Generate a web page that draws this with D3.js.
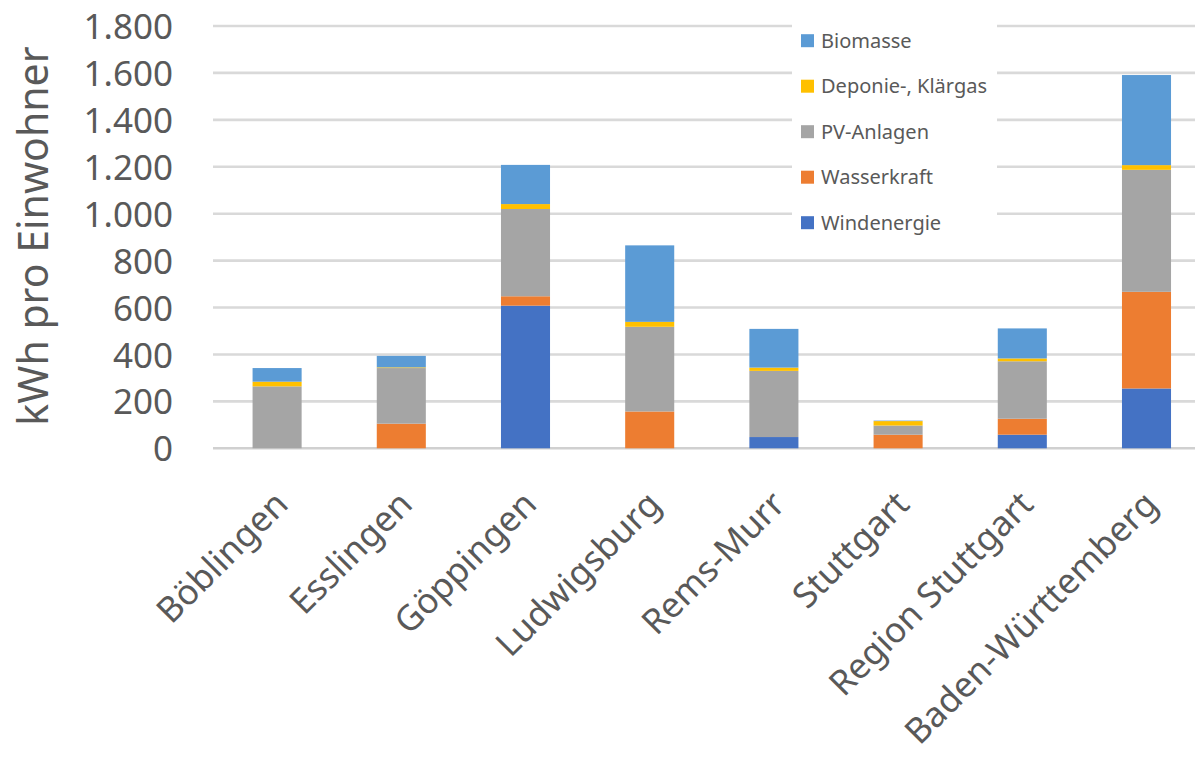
<!DOCTYPE html>
<html><head><meta charset="utf-8">
<script src="https://cdn.jsdelivr.net/npm/d3@7"></script>
<style>body{margin:0;background:#fff}svg{display:block}text{font-family:"Noto Sans","Open Sans",sans-serif;fill:#595959}</style>
</head><body>
<svg id="c" width="1195" height="764"></svg>
<script>
const categories = ["Böblingen","Esslingen","Göppingen","Ludwigsburg","Rems-Murr","Stuttgart","Region Stuttgart","Baden-Württemberg"];
const windenergie = [0, 0, 608, 0, 48, 0, 58, 255];
const wasserkraft = [0, 105, 40, 157, 0, 58, 68, 412];
const pvAnlagen = [264, 237, 372, 361, 282, 39, 245, 520];
const deponieKlaergas = [20, 3, 21, 21, 14, 19, 12, 20];
const biomasse = [58, 49, 167, 326, 165, 2, 128, 384];
const seriesNames = ["Windenergie","Wasserkraft","PV-Anlagen","Deponie-, Klärgas","Biomasse"];
const seriesColors = ["#4472c4","#ed7d31","#a5a5a5","#ffc000","#5b9bd5"];
const yTicks = [0,200,400,600,800,1000,1200,1400,1600,1800];
const yTickLabels = ["0","200","400","600","800","1.000","1.200","1.400","1.600","1.800"];
const yTitle = "kWh pro Einwohner";

const seriesValues = [windenergie, wasserkraft, pvAnlagen, deponieKlaergas, biomasse];
const rows = categories.map((c,i)=>{const r={cat:c}; seriesNames.forEach((s,j)=>r[s]=seriesValues[j][i]); return r;});
const stacked = d3.stack().keys(seriesNames)(rows);

const svg = d3.select("#c");
const x = d3.scaleBand().domain(categories).range([215, 1208.6]).paddingInner(0.605).paddingOuter(0.3025);
const y = d3.scaleLinear().domain([0,1800]).range([448.3, 26]);

// gridlines
svg.append("g").selectAll("line").data(yTicks).join("line")
  .attr("x1",213).attr("x2",1195).attr("y1",d=>y(d)).attr("y2",d=>y(d))
  .attr("stroke",d=>d===0?"#d0d0d0":"#d9d9d9").attr("stroke-width",2.6);

// legend background
svg.append("rect").attr("x",792).attr("y",18).attr("width",205).attr("height",228).attr("fill","#fff");

// bars
svg.append("g").selectAll("g").data(stacked).join("g")
  .attr("fill",(d,i)=>seriesColors[i])
  .selectAll("rect").data(d=>d).join("rect")
  .attr("x",d=>x(d.data.cat)).attr("width",x.bandwidth())
  .attr("y",d=>y(d[1])).attr("height",d=>Math.max(0,y(d[0])-y(d[1])));

// y axis labels
const yAxis = d3.axisLeft(y).tickValues(yTicks).tickFormat((d,i)=>yTickLabels[i]).tickSize(0).tickPadding(0);
const gy = svg.append("g").attr("transform","translate(173,0)").call(yAxis);
gy.select(".domain").remove();
gy.selectAll("text").attr("font-size",35).attr("fill","#595959").attr("font-family","'Noto Sans',sans-serif").attr("dy","0.36em");

// x axis labels
const xAxis = d3.axisBottom(x).tickSize(0).tickPadding(0);
const gx = svg.append("g").attr("transform","translate(0,448.3)").call(xAxis);
gx.select(".domain").remove();
gx.selectAll("text").attr("font-size",35).attr("fill","#595959").attr("font-family","'Noto Sans',sans-serif")
  .attr("text-anchor","end").attr("dy",0).attr("y",0)
  .attr("transform","translate(13,58) rotate(-45)");

// y title
svg.append("text").attr("transform","translate(48,236) rotate(-90)").attr("text-anchor","middle")
  .attr("font-size",41).text(yTitle);

// legend
const legOrder = [4,3,2,1,0];
const lg = svg.append("g").selectAll("g").data(legOrder).join("g")
  .attr("transform",(d,i)=>`translate(801,${40.7+i*45.5})`);
lg.append("rect").attr("x",0).attr("y",-6.5).attr("width",13).attr("height",13).attr("fill",d=>seriesColors[d]);
lg.append("text").attr("x",20).attr("dy","0.35em").attr("font-size",20).text(d=>seriesNames[d]);
</script>
</body></html>
